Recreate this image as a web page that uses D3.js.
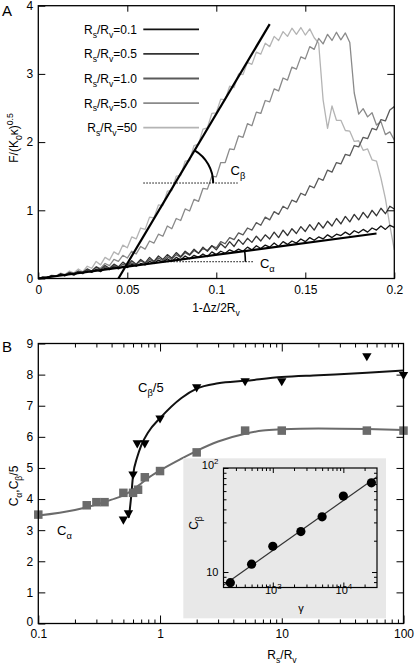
<!DOCTYPE html>
<html><head><meta charset="utf-8">
<script src="https://cdn.jsdelivr.net/npm/d3@7"></script>
<style>body{margin:0;background:#fff}svg{display:block}</style>
</head><body><svg id="c" width="416" height="666"></svg>
<script>
// ---------------- DATA: panel A ----------------
const xStepA = 0.0025; // sampling step of the force curves along 1-Δz/2Rv
const ratioLabels = ["0.1", "0.5", "1.0", "5.0", "50"];
const curve01 = [0,.01,.02,.04,.03,.06,.04,.07,.05,.09, .08,.11,.09,.13,.10,.15,.13,.17,.14,.18,
 .16,.21,.18,.22,.20,.25,.22,.27,.24,.29, .25,.31,.27,.33,.29,.34,.31,.36,.32,.39,
 .35,.40,.37,.42,.39,.43,.40,.46,.42,.48, .44,.49,.46,.52,.47,.54,.50,.55,.52,.58,
 .54,.60,.56,.61,.58,.64,.60,.65,.63,.68, .64,.70,.67,.72,.68,.74,.71,.77,.72,.78, .75];
const curve05 = [0,.02,.01,.04,.03,.07,.05,.09,.07,.11, .09,.14,.11,.17,.13,.19,.15,.21,.17,.24,
 .19,.26,.21,.28,.23,.31,.25,.33,.28,.35, .30,.38,.32,.40,.35,.43,.37,.46,.40,.48,
 .42,.51,.45,.54,.47,.57,.50,.59,.53,.62, .55,.64,.58,.68,.60,.71,.63,.73,.66,.76,
 .69,.79,.71,.82,.74,.84,.77,.88,.80,.91, .83,.94,.86,.97,.89,1.0,.92,1.03,.95,1.06, 1.02];
const curve10 = [0,.02,.01,.04,.03,.06,.04,.08,.06,.10, .07,.12,.10,.14,.12,.17,.14,.19,.16,.21,
 .18,.23,.20,.26,.22,.28,.24,.30,.26,.32, .28,.35,.31,.38,.34,.41,.37,.44,.41,.48,
 .45,.54,.51,.60,.57,.67,.64,.74,.71,.82, .78,.90,.86,.98,.94,1.06,1.02,1.15,1.12,1.25,
 1.22,1.36,1.33,1.47,1.44,1.59,1.56,1.70,1.68,1.82, 1.80,1.95,1.93,2.07,2.05,2.20,2.18,2.33,2.31,2.47, 2.52];
const curve50 = [0,.02,.01,.04,.03,.06,.05,.08,.07,.10, .08,.13,.11,.17,.15,.22,.19,.28,.25,.34,
 .30,.40,.36,.47,.43,.55,.52,.65,.62,.77, .73,.88,.85,1.02,.99,1.16,1.13,1.32,1.31,1.50,
 1.49,1.70,1.70,1.90,1.89,2.09,2.07,2.27,2.24,2.44, 2.42,2.61,2.59,2.78,2.75,2.94,2.91,3.10,3.07,3.25,
 3.22,3.40,3.36,3.52,3.44,3.58,3.49,3.61,3.50,3.60, 3.46,2.72,2.41,2.49,2.37,2.43,2.25,2.30,2.11,2.15, 2.03];
const curve500 = [0,.02,.01,.05,.04,.08,.06,.11,.08,.14, .10,.18,.15,.25,.20,.31,.27,.39,.35,.49,
 .45,.61,.58,.74,.72,.90,.89,1.08,1.07,1.28, 1.29,1.50,1.51,1.72,1.73,1.95,1.97,2.19,2.21,2.42,
 2.43,2.63,2.62,2.82,2.80,3.00,2.99,3.17,3.14,3.32, 3.29,3.45,3.40,3.55,3.49,3.62,3.55,3.67,3.58,3.68,
 3.57,3.66,3.53,3.45,2.62,2.20,2.53,2.32,2.32,2.17, 2.16,2.01,2.02,1.88,1.90,1.74,1.72,1.47,1.17,.78, .42];
const alphaFitA = [[0, 0], [0.19, 0.66]];
const betaFitA = [[0.045, 0], [0.13, 3.73]];
const betaRefY = 1.40, betaRefX = [0.059, 0.112];
const alphaRefY = 0.246, alphaRefXEnd = 0.1206;
const xTicksA = [0, 0.05, 0.1, 0.15, 0.2];
const xTickLabelsA = ["0", "0.05", "0.1", "0.15", "0.2"];
const yTicksA = [0, 1, 2, 3, 4];

// ---------------- DATA: panel B ----------------
const rsAlpha = [0.1, 0.25, 0.3, 0.35, 0.5, 0.6, 0.66, 0.75, 1, 2, 5, 10, 50, 100];
const cAlpha  = [3.5, 3.8, 3.9, 3.9, 4.2, 4.2, 4.3, 4.7, 4.9, 5.5, 6.2, 6.2, 6.2, 6.2];
const rsBeta  = [0.5, 0.55, 0.6, 0.65, 0.75, 1, 2, 5, 10, 50, 100];
const cBeta5  = [3.35, 3.55, 4.8, 5.8, 5.8, 6.6, 7.6, 7.8, 7.8, 8.6, 8.0];
const fitAlphaX = [0.1, 0.2, 0.3, 0.4, 0.5, 0.6, 0.7, 0.8, 1, 1.5, 2, 3, 5, 7, 10, 20, 50, 100];
const fitAlphaY = [3.47, 3.65, 3.82, 3.98, 4.12, 4.3, 4.5, 4.68, 4.92, 5.3, 5.55, 5.85, 6.1, 6.2, 6.24, 6.27, 6.25, 6.22];
const fitBetaX = [0.555, 0.58, 0.6, 0.65, 0.7, 0.8, 1, 1.5, 2, 3, 5, 10, 20, 50, 100];
const fitBetaY = [3.4, 4.1, 4.75, 5.35, 5.72, 6.15, 6.6, 7.25, 7.55, 7.72, 7.8, 7.92, 7.98, 8.06, 8.13];
const xMajorB = [0.1, 1, 10, 100];
const xMajorLabelsB = ["0.1", "1", "10", "100"];
const xMinorB = [0.2,0.3,0.4,0.5,0.6,0.7,0.8,0.9, 2,3,4,5,6,7,8,9, 20,30,40,50,60,70,80,90];
const yTicksB = [0, 1, 2, 3, 4, 5, 6, 7, 8, 9];

// ---------------- DATA: inset ----------------
const gammaVals = [250, 500, 1000, 2500, 5000, 10000, 25000];
const cBetaVals = [7.9, 11.9, 17.7, 24.5, 33.9, 53.7, 72];
const gammaFit = [200, 30000];
const cBetaFit = [7.45, 82.4];
const xMajorI = [1000, 10000];
const xMinorI = [300,400,500,600,700,800,900, 2000,3000,4000,5000,6000,7000,8000,9000, 20000];
const yMajorI = [10, 100];
const yMinorI = [8, 9, 20, 30, 40, 50, 60, 70, 80, 90];

// ---------------- DRAW ----------------
const FONT = '"Liberation Sans", Arial, Helvetica, sans-serif';
const svg = d3.select("#c");

function rich(t, parts, fs) {
  let shift = 0;
  parts.forEach(([s, k]) => {
    const target = k === "sub" ? fs * 0.32 : k === "sup" ? -fs * 0.42 : 0;
    const sp = t.append("tspan").text(s).attr("dy", target - shift);
    if (k !== "n") sp.attr("font-size", fs * 0.72);
    shift = target;
  });
}
function txt(g, x, y, fs, anchor) {
  return g.append("text").attr("x", x).attr("y", y).attr("font-family", FONT)
    .attr("font-size", fs).attr("text-anchor", anchor || "start").attr("fill", "#000");
}
function styleAxis(g, fs) {
  g.select(".domain").remove();
  g.attr("font-family", null).attr("font-size", null);
  g.selectAll("line").attr("stroke", "#000").attr("stroke-width", 1);
  g.selectAll("text").attr("font-family", FONT).attr("font-size", fs).attr("fill", "#000");
}

// ===== Panel A =====
const xA = d3.scaleLinear().domain([0, 0.2]).range([38.3, 394.3]);
const yA = d3.scaleLinear().domain([0, 4]).range([278.5, 5.7]);
const gA = svg.append("g");

const seriesA = [
  { vals: curve500, color: "#b4b4b4" },
  { vals: curve50,  color: "#8a8a8a" },
  { vals: curve10,  color: "#5a5a5a" },
  { vals: curve05,  color: "#343434" },
  { vals: curve01,  color: "#121212" }
];
const lineA = d3.line().x((d, i) => xA(i * xStepA)).y(d => yA(d));
seriesA.forEach(s => {
  gA.append("path").attr("d", lineA(s.vals)).attr("fill", "none")
    .attr("stroke", s.color).attr("stroke-width", 1.3).attr("stroke-linejoin", "round");
});

const segLine = d3.line().x(d => xA(d[0])).y(d => yA(d[1]));
gA.append("path").attr("d", segLine(alphaFitA)).attr("stroke", "#000").attr("stroke-width", 2.2).attr("fill", "none");
gA.append("path").attr("d", segLine(betaFitA)).attr("stroke", "#000").attr("stroke-width", 2.2).attr("fill", "none");

// reference dotted lines & angle arcs
const betaSlope = (betaFitA[1][1] - betaFitA[0][1]) / (betaFitA[1][0] - betaFitA[0][0]);
const xbI = betaFitA[0][0] + betaRefY / betaSlope;
gA.append("line").attr("x1", xA(betaRefX[0])).attr("x2", xA(betaRefX[1]))
  .attr("y1", yA(betaRefY)).attr("y2", yA(betaRefY))
  .attr("stroke", "#000").attr("stroke-width", 1).attr("stroke-dasharray", "1.5,1.5");
const alphaSlope = alphaFitA[1][1] / alphaFitA[1][0];
const xaI = alphaRefY / alphaSlope;
gA.append("line").attr("x1", xA(xaI)).attr("x2", xA(alphaRefXEnd))
  .attr("y1", yA(alphaRefY)).attr("y2", yA(alphaRefY))
  .attr("stroke", "#000").attr("stroke-width", 1).attr("stroke-dasharray", "1.5,1.5");

function angleArc(cx, cy, theta, r, w) {
  const p = `M${cx + r * Math.cos(theta)},${cy - r * Math.sin(theta)} A${r},${r} 0 0 1 ${cx + r},${cy}`;
  gA.append("path").attr("d", p).attr("fill", "none").attr("stroke", "#000").attr("stroke-width", w);
}
{
  const cx = xA(xbI), cy = yA(betaRefY);
  const th = Math.atan2(yA(betaFitA[0][1]) - yA(betaFitA[1][1]), xA(betaFitA[1][0]) - xA(betaFitA[0][0]));
  angleArc(cx, cy, th, 38, 2);
  const cx2 = xA(xaI), cy2 = yA(alphaRefY);
  const th2 = Math.atan2(yA(0) - yA(alphaFitA[1][1]), xA(alphaFitA[1][0]) - xA(0));
  angleArc(cx2, cy2, th2, 81, 1.6);
}
rich(txt(gA, xA(0.108), yA(1.52), 13), [["C", "n"], ["β", "sub"]], 13);
rich(txt(gA, xA(0.1245), yA(0.154), 13), [["C", "n"], ["α", "sub"]], 13);

// axes A
gA.append("g").attr("transform", `translate(0,${yA(0)})`)
  .call(d3.axisBottom(xA).tickValues(xTicksA).tickFormat((d, i) => xTickLabelsA[i]).tickSizeInner(-6).tickSizeOuter(0).tickPadding(7))
  .call(styleAxis, 12);
gA.append("g").attr("transform", `translate(0,${yA(4)})`)
  .call(d3.axisTop(xA).tickValues(xTicksA.slice(1, -1)).tickFormat("").tickSizeInner(-6).tickSizeOuter(0))
  .call(styleAxis, 12);
gA.append("g").attr("transform", `translate(${xA(0)},0)`)
  .call(d3.axisLeft(yA).tickValues(yTicksA).tickFormat(d3.format("d")).tickSizeInner(-7).tickSizeOuter(0).tickPadding(5))
  .call(styleAxis, 12);
gA.append("g").attr("transform", `translate(${xA(0.2)},0)`)
  .call(d3.axisRight(yA).tickValues(yTicksA.slice(1, -1)).tickFormat("").tickSizeInner(-7).tickSizeOuter(0))
  .call(styleAxis, 12);
gA.append("rect").attr("x", xA(0)).attr("y", yA(4)).attr("width", xA(0.2) - xA(0)).attr("height", yA(0) - yA(4))
  .attr("fill", "none").attr("stroke", "#000").attr("stroke-width", 1.3);

// legend
const legColors = ["#121212", "#343434", "#5a5a5a", "#8a8a8a", "#b4b4b4"];
ratioLabels.forEach((lab, i) => {
  const ly = 29.3 + i * 24.6;
  gA.append("line").attr("x1", 143.3).attr("x2", 199).attr("y1", ly).attr("y2", ly)
    .attr("stroke", legColors[i]).attr("stroke-width", 1.8);
  rich(txt(gA, 137, ly + 4.5, 12, "end"), [["R", "n"], ["s", "sub"], ["/R", "n"], ["v", "sub"], ["=" + lab, "n"]], 12);
});

// labels A
txt(gA, 2, 16, 15).text("A");
rich(txt(gA, 216, 312, 12, "middle"), [["1-Δz/2R", "n"], ["v", "sub"]], 12);
rich(txt(gA, 0, 0, 12, "middle").attr("transform", "translate(18,138) rotate(-90)"),
  [["F/(K", "n"], ["0", "sub"], ["κ)", "n"], ["0.5", "sup"]], 12);

// ===== Panel B =====
const xB = d3.scaleLog().domain([0.1, 100]).range([38.3, 403.5]);
const yB = d3.scaleLinear().domain([0, 9]).range([623.5, 343.5]);
const gB = svg.append("g");

const fitLine = d3.line().x(d => xB(d[0])).y(d => yB(d[1])).curve(d3.curveMonotoneX);
gB.append("path").attr("d", fitLine(fitAlphaX.map((x, i) => [x, fitAlphaY[i]])))
  .attr("fill", "none").attr("stroke", "#6b6b6b").attr("stroke-width", 2);
gB.append("path").attr("d", fitLine(fitBetaX.map((x, i) => [x, fitBetaY[i]])))
  .attr("fill", "none").attr("stroke", "#111").attr("stroke-width", 2);

const sq = 8.5;
gB.selectAll("rect.sq").data(rsAlpha.map((x, i) => [x, cAlpha[i]])).enter().append("rect")
  .attr("x", d => xB(d[0]) - sq / 2).attr("y", d => yB(d[1]) - sq / 2)
  .attr("width", sq).attr("height", sq).attr("fill", "#6b6b6b");
const tri = d3.symbol().type(d3.symbolTriangle).size(38);
gB.selectAll("path.tri").data(rsBeta.map((x, i) => [x, cBeta5[i]])).enter().append("path")
  .attr("d", tri).attr("fill", "#000")
  .attr("transform", d => `translate(${xB(d[0])},${yB(d[1])}) rotate(180)`);

rich(txt(gB, 138, 392, 13), [["C", "n"], ["β", "sub"], ["/5", "n"]], 13);
rich(txt(gB, 57, 535, 13), [["C", "n"], ["α", "sub"]], 13);

// axes B
gB.append("g").attr("transform", `translate(0,${yB(0)})`)
  .call(d3.axisBottom(xB).tickValues(xMajorB).tickFormat((d, i) => xMajorLabelsB[i]).tickSizeInner(-8).tickSizeOuter(0).tickPadding(6))
  .call(styleAxis, 12);
gB.append("g").attr("transform", `translate(0,${yB(0)})`)
  .call(d3.axisBottom(xB).tickValues(xMinorB).tickFormat("").tickSizeInner(-4).tickSizeOuter(0))
  .call(styleAxis, 12);
gB.append("g").attr("transform", `translate(0,${yB(9)})`)
  .call(d3.axisTop(xB).tickValues(xMajorB.slice(1, -1)).tickFormat("").tickSizeInner(-8).tickSizeOuter(0))
  .call(styleAxis, 12);
gB.append("g").attr("transform", `translate(0,${yB(9)})`)
  .call(d3.axisTop(xB).tickValues(xMinorB).tickFormat("").tickSizeInner(-4).tickSizeOuter(0))
  .call(styleAxis, 12);
const yAxB = gB.append("g").attr("transform", `translate(${xB(0.1)},0)`)
  .call(d3.axisLeft(yB).tickValues(yTicksB).tickFormat(d3.format("d")).tickSizeInner(-7).tickSizeOuter(0).tickPadding(5))
  .call(styleAxis, 12);
yAxB.selectAll(".tick text").filter(d => d === 0).attr("dy", "0.15em");
gB.append("g").attr("transform", `translate(${xB(100)},0)`)
  .call(d3.axisRight(yB).tickValues(yTicksB.slice(1, -1)).tickFormat("").tickSizeInner(-7).tickSizeOuter(0))
  .call(styleAxis, 12);
gB.append("rect").attr("x", xB(0.1)).attr("y", yB(9)).attr("width", xB(100) - xB(0.1)).attr("height", yB(0) - yB(9))
  .attr("fill", "none").attr("stroke", "#000").attr("stroke-width", 1.3);

txt(gB, 2, 352, 15).text("B");
rich(txt(gB, 282, 659, 12, "middle"), [["R", "n"], ["s", "sub"], ["/R", "n"], ["v", "sub"]], 12);
rich(txt(gB, 0, 0, 12, "middle").attr("transform", "translate(18,486) rotate(-90)"),
  [["C", "n"], ["α", "sub"], [",C", "n"], ["β", "sub"], ["/5", "n"]], 12);

// ===== Inset =====
const gI = svg.append("g");
gI.append("rect").attr("x", 183.3).attr("y", 458.3).attr("width", 202.7).attr("height", 160).attr("fill", "#e8e8e8");
const xI = d3.scaleLog().domain([200, 30000]).range([223.5, 377]);
const yI = d3.scaleLog().domain([7.1, 100]).range([587.5, 468]);

gI.append("path").attr("d", d3.line().x(d => xI(d[0])).y(d => yI(d[1]))(gammaFit.map((g, i) => [g, cBetaFit[i]])))
  .attr("stroke", "#333").attr("stroke-width", 1.2).attr("fill", "none");
gI.selectAll("circle").data(gammaVals.map((g, i) => [g, cBetaVals[i]])).enter().append("circle")
  .attr("cx", d => xI(d[0])).attr("cy", d => yI(d[1])).attr("r", 4.6).attr("fill", "#000");

function supLabels(g, fs) {
  g.selectAll(".tick text").each(function (d) {
    const t = d3.select(this);
    const e = Math.round(Math.log10(d));
    t.text(null);
    if (e === 1) { t.text("10"); return; }
    rich(t, [["10", "n"], [String(e), "sup"]], fs);
  });
}
gI.append("g").attr("transform", `translate(0,${yI(7.1)})`)
  .call(d3.axisBottom(xI).tickValues(xMajorI).tickSizeInner(-5).tickSizeOuter(0).tickPadding(6))
  .call(styleAxis, 11).call(supLabels, 11);
gI.append("g").attr("transform", `translate(0,${yI(7.1)})`)
  .call(d3.axisBottom(xI).tickValues(xMinorI).tickFormat("").tickSizeInner(-3).tickSizeOuter(0))
  .call(styleAxis, 11);
gI.append("g").attr("transform", `translate(0,${yI(100)})`)
  .call(d3.axisTop(xI).tickValues(xMajorI).tickFormat("").tickSizeInner(-5).tickSizeOuter(0))
  .call(styleAxis, 11);
gI.append("g").attr("transform", `translate(0,${yI(100)})`)
  .call(d3.axisTop(xI).tickValues(xMinorI).tickFormat("").tickSizeInner(-3).tickSizeOuter(0))
  .call(styleAxis, 11);
gI.append("g").attr("transform", `translate(${xI(200)},0)`)
  .call(d3.axisLeft(yI).tickValues(yMajorI).tickSizeInner(-5).tickSizeOuter(0).tickPadding(5))
  .call(styleAxis, 11).call(supLabels, 11);
gI.append("g").attr("transform", `translate(${xI(200)},0)`)
  .call(d3.axisLeft(yI).tickValues(yMinorI).tickFormat("").tickSizeInner(-3).tickSizeOuter(0))
  .call(styleAxis, 11);
gI.append("g").attr("transform", `translate(${xI(30000)},0)`)
  .call(d3.axisRight(yI).tickValues(yMajorI.slice(0, 1)).tickFormat("").tickSizeInner(-5).tickSizeOuter(0))
  .call(styleAxis, 11);
gI.append("g").attr("transform", `translate(${xI(30000)},0)`)
  .call(d3.axisRight(yI).tickValues(yMinorI).tickFormat("").tickSizeInner(-3).tickSizeOuter(0))
  .call(styleAxis, 11);
gI.append("rect").attr("x", xI(200)).attr("y", yI(100)).attr("width", xI(30000) - xI(200)).attr("height", yI(7.1) - yI(100))
  .attr("fill", "none").attr("stroke", "#000").attr("stroke-width", 1.2);
txt(gI, 301, 612, 11, "middle").text("γ");
rich(txt(gI, 0, 0, 12, "middle").attr("transform", "translate(198,523) rotate(-90)"), [["C", "n"], ["β", "sub"]], 12);
</script>
</body></html>
